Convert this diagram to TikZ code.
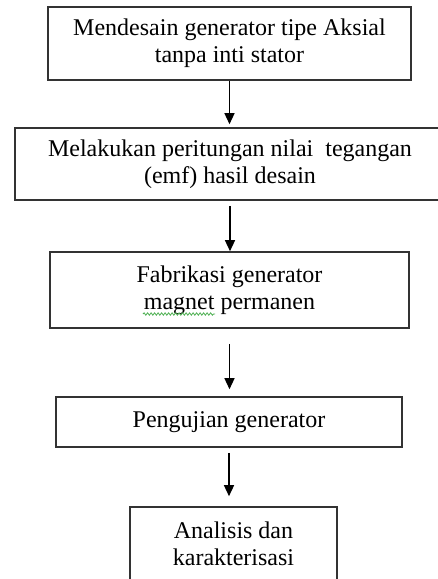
\documentclass[tikz,border=0pt]{standalone}
\usepackage{fontspec}
\setmainfont{Liberation Serif}
\usepackage{xcolor}
\usepackage{tikz}
\usetikzlibrary{arrows.meta,decorations.pathmorphing}
\definecolor{edge}{HTML}{333333}
\definecolor{squig}{HTML}{4caf50}

\begin{document}
\begin{tikzpicture}[x=1pt, y=-1pt,
  every node/.style={font=\fontsize{24}{27}\selectfont, align=center, inner sep=0pt},
  box/.style={draw=edge, line width=1.6pt, fill=white},
  arr/.style={draw=black, line width=1.4pt, -{Triangle[length=11pt,width=10pt]}}]
  \useasboundingbox[fill=white] (0,0) rectangle (438,579);
  % Boxes
  \node[box, minimum width=363pt, minimum height=73pt] (desain) at (229.5,43.5)
    {Mendesain generator tipe Aksial\\tanpa inti stator};
  \node[box, minimum width=430pt, minimum height=72pt] (hitung) at (230,164)
    {Melakukan peritungan nilai~ tegangan\\(emf) hasil desain};
  \node[box, minimum width=359pt, minimum height=76pt] (fabrik) at (229.5,290)
    {Fabrikasi generator\\magnet permanen};
  \node[box, minimum width=346pt, minimum height=50pt] (uji) at (229,422)
    {Pengujian generator};
  \node[box, minimum width=207pt, minimum height=74pt] (analisis) at (233.5,544)
    {Analisis dan\\karakterisasi};
  % Squiggle under "magnet"
  \draw[squig, line width=0.8pt, decorate, decoration={snake, amplitude=1.2pt, segment length=3.5pt}]
    (143,314) -- (215,314);
  % Arrows
  \draw[arr, shorten >=3pt] (desain.south) -- (desain.south |- hitung.north);
  \draw[arr, shorten <=5pt] (hitung.south) -- (hitung.south |- fabrik.north);
  \draw[arr, shorten <=15pt, shorten >=7pt] (fabrik.south) -- (fabrik.south |- uji.north);
  \draw[arr, shorten <=5pt, shorten >=10pt] (uji.south) -- (uji.south |- analisis.north);
\end{tikzpicture}
\end{document}
